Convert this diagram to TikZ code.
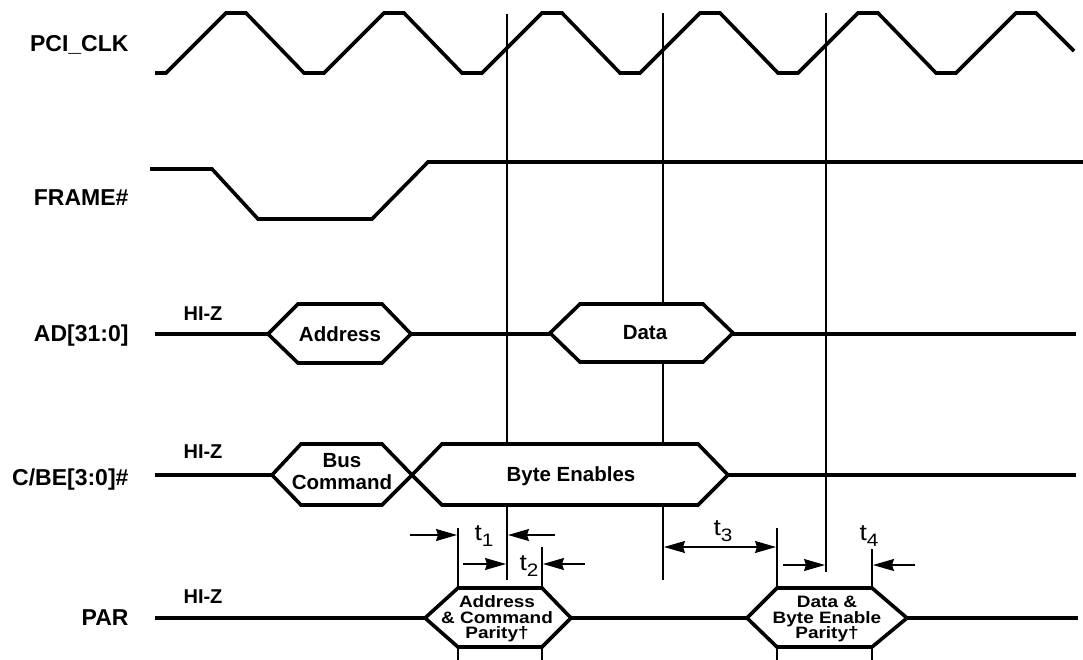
\documentclass[tikz,border=0pt]{standalone}
\usepackage{fontspec}
\setmainfont{Liberation Sans}
\newfontfamily\widesans[FakeStretch=1.15]{Liberation Sans}
\usetikzlibrary{arrows.meta}

\begin{document}
\begin{tikzpicture}[x=1pt,y=-1pt,>={Stealth[length=21pt,width=12pt,inset=2pt]},
    wave/.style={line width=3.6pt},
    tick/.style={line width=1.2pt},
    dim/.style={line width=1.2pt,->},
    signame/.style={anchor=base east,font=\bfseries\fontsize{23}{23}\selectfont},
    hiz/.style={anchor=base,font=\bfseries\fontsize{20}{20}\selectfont},
    phase/.style={align=center,font=\bfseries\fontsize{20.5}{22}\selectfont},
    parity/.style={align=center,font=\widesans\bfseries\fontsize{16.5}{15.5}\selectfont},
    tlab/.style={anchor=base west,font=\widesans\fontsize{23}{23}\selectfont}]
    \useasboundingbox (0,0) rectangle (1083,660);

    \node[signame] (clk) at (132,52) {PCI\_CLK};
    \node[signame] (frame) at (132,206) {FRAME\#};
    \node[signame] (ad) at (132,341) {AD[31:0]};
    \node[signame] (cbe) at (132,485) {C/BE[3:0]\#};
    \node[signame] (par) at (132,625) {PAR};

    \draw[tick] (507,14)--(507,580) (663,13)--(663,580) (826,13)--(826,572);
    \draw[tick] (458,528)--(458,660) (542,547)--(542,660) (777,528)--(777,660) (872,549)--(872,660);

    \draw[wave] (155,73) foreach \i in {0,...,4}{--({166+158*\i},73)--({226+158*\i},13)--({246+158*\i},13)--({304+158*\i},73)}
        --(956,73)--(1016,13)--(1036,13)--(1074,51);
    \draw[wave] (150,169)--(212,169)--(258,219)--(372,219)--(428,162)--(1083,162);

    \draw[wave] (155,334)--(268,334) (411,334)--(550,334) (733,334)--(1076,334);
    \draw[wave,fill=white] (268,334)--(298,304)--(382,304)--(411,334)--(382,363)--(298,363)--cycle;
    \draw[wave,fill=white] (550,333)--(580,304)--(703,304)--(733,333)--(703,362)--(580,362)--cycle;
    \node[hiz] (hizad) at (203,320) {HI-Z};
    \node[phase] (addr) at (340,334) {Address};
    \node[phase] (data) at (645,333) {Data};

    \draw[wave] (155,475)--(272,475) (728,475)--(1076,475);
    \draw[wave,fill=white] (272,475)--(301,444)--(382,444)--(412,475)--(382,505)--(301,505)--cycle;
    \draw[wave,fill=white] (412,475)--(442,444)--(698,444)--(728,475)--(698,505)--(442,505)--cycle;
    \node[hiz] (hizcbe) at (203,458) {HI-Z};
    \node[phase] (buscmd) at (342,472) {Bus\\Command};
    \node[phase] (byteen) at (571,476) {Byte Enables};

    \draw[wave] (155,618)--(425,618) (571,618)--(747,618) (907,618)--(1078,618);
    \draw[wave,fill=white] (425,618)--(458,588)--(542,588)--(571,618)--(542,647)--(458,647)--cycle;
    \draw[wave,fill=white] (747,618)--(777,588)--(872,588)--(907,618)--(872,647)--(777,647)--cycle;
    \node[hiz] (hizpar) at (203,603) {HI-Z};
    \node[parity] (adpar) at (497,619) {Address\\\& Command\\Parity\textdagger};
    \node[parity] (bepar) at (827,619) {Data \&\\Byte Enable\\Parity\textdagger};

    \draw[dim] (410,535)--(457,535);
    \draw[dim] (555,535)--(508,535);
    \draw[dim] (463,564)--(506,564);
    \draw[dim] (585,564)--(543,564);
    \draw[dim,<->] (664,547)--(776,547);
    \draw[dim] (783,565)--(825,565);
    \draw[dim] (915,565)--(873,565);
    \node[tlab] (t1) at (471,540) {t\raisebox{-6pt}{\fontsize{18}{18}\selectfont 1}};
    \node[tlab] (t2) at (516,570) {t\raisebox{-6pt}{\fontsize{18}{18}\selectfont 2}};
    \node[tlab] (t3) at (710,535) {t\raisebox{-6pt}{\fontsize{18}{18}\selectfont 3}};
    \node[tlab] (t4) at (856,540) {t\raisebox{-6pt}{\fontsize{18}{18}\selectfont 4}};
\end{tikzpicture}
\end{document}
